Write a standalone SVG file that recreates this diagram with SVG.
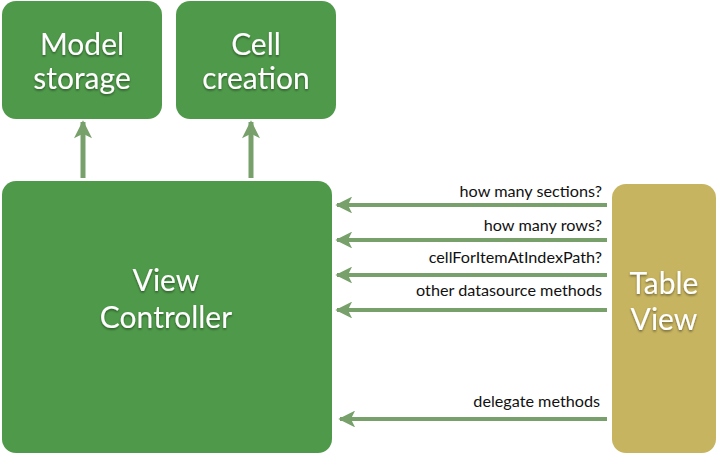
<svg xmlns="http://www.w3.org/2000/svg" width="720" height="457" viewBox="0 0 720 457">
<defs>
<filter id="ts" x="-10%" y="-10%" width="120%" height="130%">
<feDropShadow dx="0" dy="1.5" stdDeviation="1" flood-color="#000" flood-opacity="0.45"/>
</filter>
<marker id="ah" viewBox="0 0 10 10" refX="9" refY="5" markerWidth="5" markerHeight="4.2" orient="auto" markerUnits="strokeWidth">
<path d="M0,0 L10,5 L0,10 L2.5,5 Z" fill="#77a06a"/>
</marker>
<marker id="au" viewBox="0 0 10 10" refX="9" refY="5" markerWidth="4" markerHeight="3.6" orient="auto" markerUnits="strokeWidth">
<path d="M0,0 L10,5 L0,10 L2.5,5 Z" fill="#77a06a"/>
</marker>
</defs>
<style>
.g{fill:#4f9a4a}
.y{fill:#c7b460}
.nt{font-family:Lato,"Open Sans",sans-serif;font-size:30px;fill:#fff;text-anchor:middle;filter:url(#ts)}
.lb{font-family:Lato,"Open Sans",sans-serif;font-size:16.2px;fill:#111;text-anchor:end}
.c{stroke:#77a06a;fill:none}
</style>
<rect width="720" height="457" fill="#fff"/>
<g id="model-storage">
<rect class="g" x="2" y="1" width="160" height="118" rx="14"/>
<text class="nt" x="82" y="55">Model</text>
<text class="nt" x="82" y="89">storage</text>
</g>
<g id="cell-creation">
<rect class="g" x="176" y="1" width="160" height="118" rx="14"/>
<text class="nt" x="256" y="55">Cell</text>
<text class="nt" x="256" y="89">creation</text>
</g>
<g id="view-controller">
<rect class="g" x="2" y="181" width="330" height="272" rx="14"/>
<text class="nt" x="166" y="291">View</text>
<text class="nt" x="166" y="328">Controller</text>
</g>
<g id="table-view">
<rect class="y" x="612" y="184" width="104" height="269" rx="14"/>
<text class="nt" x="664" y="294">Table</text>
<text class="nt" x="664" y="330">View</text>
</g>
<g id="connectors">
<line class="c" stroke-width="5" x1="83" y1="178" x2="83" y2="122" marker-end="url(#au)"/>
<line class="c" stroke-width="5" x1="251" y1="178" x2="251" y2="122" marker-end="url(#au)"/>
<line class="c" stroke-width="4" x1="607" y1="205" x2="337" y2="205" marker-end="url(#ah)"/>
<line class="c" stroke-width="4" x1="607" y1="240" x2="337" y2="240" marker-end="url(#ah)"/>
<line class="c" stroke-width="4" x1="607" y1="275" x2="337" y2="275" marker-end="url(#ah)"/>
<line class="c" stroke-width="4" x1="607" y1="310" x2="337" y2="310" marker-end="url(#ah)"/>
<line class="c" stroke-width="4" x1="607" y1="419" x2="340" y2="419" marker-end="url(#ah)"/>
</g>
<g id="labels">
<text class="lb" x="602" y="197">how many sections?</text>
<text class="lb" x="602" y="231">how many rows?</text>
<text class="lb" x="602" y="263">cellForItemAtIndexPath?</text>
<text class="lb" x="602" y="296">other datasource methods</text>
<text class="lb" x="600" y="407">delegate methods</text>
</g>
</svg>
